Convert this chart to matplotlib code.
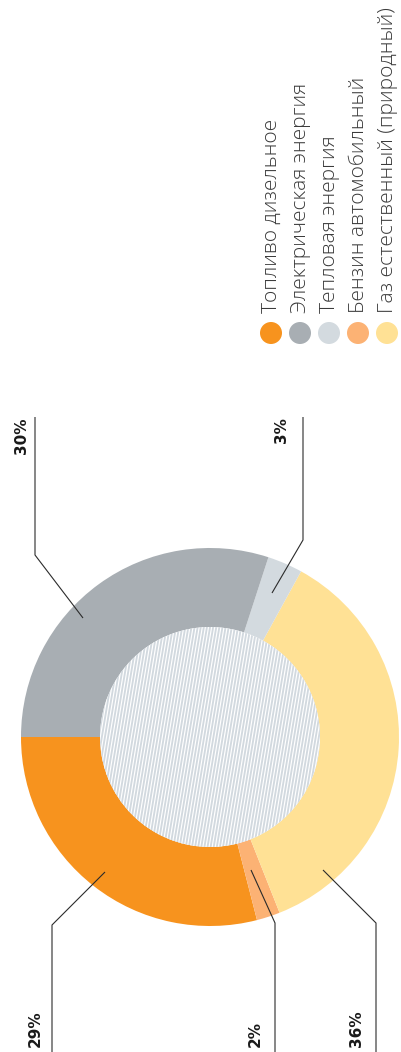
import numpy as np
import matplotlib.pyplot as plt
from matplotlib.patches import Circle
from matplotlib.collections import LineCollection

# energy mix, legend order
labels = ["Топливо дизельное", "Электрическая энергия", "Тепловая энергия",
          "Бензин автомобильный", "Газ естественный (природный)"]
shares = [29, 30, 3, 2, 36]
colors = ["#F7931E", "#A8AEB3", "#D3DADF", "#FCB274", "#FFE195"]

# order of the slices around the ring, starting from the left
ring_order = [0, 3, 4, 2, 1]

W, H = 401, 1052
fig = plt.figure(figsize=(W / 100, H / 100), dpi=100)
ax = fig.add_axes([0, 0, 1, 1])

cx, cy = 210, 737
r_out, r_in = 189, 110

ax.pie([shares[i] for i in ring_order], colors=[colors[i] for i in ring_order],
       startangle=180, counterclock=False, center=(cx, cy), radius=r_out,
       wedgeprops=dict(width=r_out - r_in, linewidth=0), frame=True)

# striped centre
disc = Circle((cx, cy), r_in, facecolor="#D2D9DF", edgecolor="none", zorder=3)
ax.add_patch(disc)
step = 3.1
slope = -1 / 6.0
xs = np.arange(cx - r_in - 40, cx + r_in + 40, step)
segs = [[(x0 - slope * r_in * 1.2, cy - r_in * 1.2), (x0 + slope * r_in * 1.2, cy + r_in * 1.2)]
        for x0 in xs]
stripes = LineCollection(segs, colors="white", linewidths=0.85, zorder=4)
stripes.set_clip_path(disc)
ax.add_collection(stripes)

# leader lines and value labels
line_kw = dict(color="#2b2b2b", lw=0.8, zorder=5, solid_capstyle="butt")
pct_kw = dict(rotation=90, fontsize=11, fontweight="bold", color="#1a1a1a")

ax.plot([35, 35, 83], [417, 555, 618], **line_kw)
ax.text(29, 417, f"{shares[1]}%", ha="right", va="top", **pct_kw)

ax.plot([303, 303, 272], [417, 540, 593], **line_kw)
ax.text(289, 417, f"{shares[2]}%", ha="right", va="top", **pct_kw)

ax.plot([105, 52, 52], [872, 925, H], **line_kw)
ax.text(43, 1047, f"{shares[0]}%", ha="right", va="bottom", **pct_kw)

ax.plot([251, 275, 275], [870, 923, H], **line_kw)
ax.text(263, 1047, f"{shares[3]}%", ha="right", va="bottom", **pct_kw)

ax.plot([323, 376, 376], [870, 923, H], **line_kw)
ax.text(364, 1047, f"{shares[4]}%", ha="right", va="bottom", **pct_kw)

# legend
leg_x = [271, 300, 329, 358, 387]
for x, lab, col in zip(leg_x, labels, colors):
    ax.add_patch(Circle((x, 333), 11, facecolor=col, edgecolor="none"))
    ax.text(x + 1, 313, lab, rotation=90, ha="center", va="bottom",
            fontsize=15, family="Open Sans", fontweight="light", color="#3a3a3a")

ax.set_xlim(0, W)
ax.set_ylim(H, 0)
ax.set_aspect("equal")
ax.axis("off")

fig.savefig("out.png", dpi=100, facecolor="white")
